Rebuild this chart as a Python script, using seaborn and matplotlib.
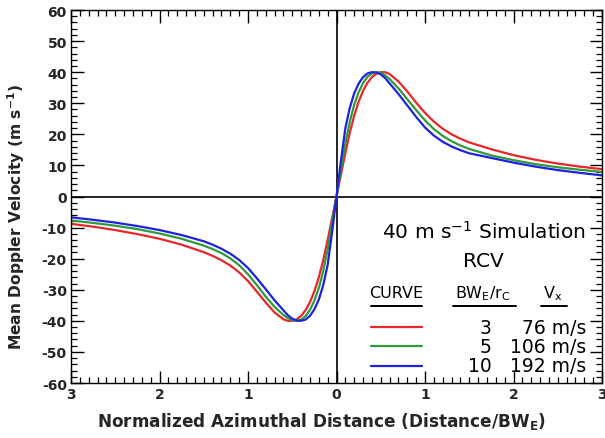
import matplotlib
matplotlib.use("Agg")
import matplotlib.pyplot as plt
import seaborn as sns
import pandas as pd
from matplotlib.ticker import MultipleLocator, FuncFormatter

# ---------------- data ----------------
x_dist = [-3.0, -2.75, -2.5, -2.25, -2.0, -1.75, -1.5, -1.4, -1.3, -1.2, -1.1, -1.0, -0.9, -0.8, -0.7,
          -0.6, -0.55, -0.5, -0.45, -0.4, -0.35, -0.3, -0.25, -0.2, -0.15, -0.1, -0.05,
          0.0,
          0.05, 0.1, 0.15, 0.2, 0.25, 0.3, 0.35, 0.4, 0.45, 0.5, 0.55, 0.6,
          0.7, 0.8, 0.9, 1.0, 1.1, 1.2, 1.3, 1.4, 1.5, 1.75, 2.0, 2.25, 2.5, 2.75, 3.0]

v_red = [-8.8, -9.7, -10.8, -12.1, -13.6, -15.5, -17.9, -19.1, -20.5, -22.2, -24.4, -27.2, -30.6, -34.1, -37.3,
         -39.5, -40.0, -40.0, -39.5, -38.4, -36.6, -34.0, -30.5, -26.0, -20.5, -14.0, -7.0,
         0.0,
         7.0, 14.0, 20.5, 26.0, 30.5, 34.0, 36.6, 38.4, 39.5, 40.0, 40.0, 39.4,
         37.0, 33.8, 30.2, 26.9, 24.1, 21.8, 20.0, 18.6, 17.4, 15.2, 13.3, 11.8, 10.6, 9.6, 8.8]

v_green = [-7.7, -8.5, -9.4, -10.5, -11.9, -13.6, -15.8, -16.9, -18.2, -19.9, -22.1, -25.0, -28.5, -32.2, -35.5,
           -38.1, -39.1, -39.8, -40.0, -39.6, -38.5, -36.5, -33.5, -29.5, -24.0, -17.0, -8.5,
           0.0,
           8.5, 17.0, 24.0, 29.5, 33.5, 36.5, 38.5, 39.6, 40.0, 39.8, 39.0, 37.8,
           34.8, 31.3, 27.8, 24.5, 21.7, 19.5, 17.8, 16.4, 15.3, 13.2, 11.7, 10.4, 9.4, 8.6, 7.9]

v_blue = [-6.7, -7.5, -8.4, -9.5, -10.8, -12.4, -14.4, -15.5, -16.8, -18.4, -20.4, -23.0, -26.3, -29.8, -33.4,
          -36.6, -38.2, -39.3, -39.9, -40.0, -39.6, -38.4, -36.3, -33.2, -28.5, -22.0, -11.5,
          0.0,
          11.5, 22.0, 28.5, 33.2, 36.3, 38.4, 39.6, 40.0, 39.9, 39.3, 38.1, 36.4,
          33.0, 29.3, 25.6, 22.2, 19.6, 17.6, 16.1, 14.9, 13.9, 12.4, 10.9, 9.6, 8.5, 7.6, 6.8]

curve_names = ["3", "5", "10"]          # BW_E / r_c
vx_labels = ["76 m/s", "106 m/s", "192 m/s"]
colors = ["#e8262a", "#2e9a3a", "#1c22e0"]

n = len(x_dist)
df = pd.DataFrame({
    "x": x_dist * 3,
    "v": v_red + v_green + v_blue,
    "curve": [curve_names[0]] * n + [curve_names[1]] * n + [curve_names[2]] * n,
})

# ---------------- style ----------------
sns.set_style("ticks")
plt.rcParams["font.family"] = ["DejaVu Sans"]
plt.rcParams["axes.unicode_minus"] = False

fig = plt.figure(figsize=(6.05, 4.39), dpi=100)
ax = fig.add_axes([71 / 605, 1 - 384 / 439, 531 / 605, 373 / 439])

sns.lineplot(data=df, x="x", y="v", hue="curve", palette=dict(zip(curve_names, colors)),
             linewidth=1.6, ax=ax, legend=False, sort=False, estimator=None)

ax.axhline(0, color="black", lw=1.2, zorder=1)
ax.axvline(0, color="black", lw=1.2, zorder=1)

ax.set_xlim(-3, 3)
ax.set_ylim(-60, 60)
ax.xaxis.set_major_locator(MultipleLocator(1))
ax.xaxis.set_minor_locator(MultipleLocator(0.1))
ax.yaxis.set_major_locator(MultipleLocator(10))
ax.yaxis.set_minor_locator(MultipleLocator(2))
ax.xaxis.set_major_formatter(FuncFormatter(lambda v, p: f"{abs(v):.0f}"))
ax.tick_params(which="both", direction="in", top=True, right=True, color="black")
ax.tick_params(which="major", length=9, width=1.0, labelsize=10, pad=3)
ax.tick_params(which="minor", length=4.5, width=0.9)
for lab in ax.get_xticklabels() + ax.get_yticklabels():
    lab.set_fontweight("bold")
for s in ax.spines.values():
    s.set_color("black")
    s.set_linewidth(1.0)

ax.set_xlabel(r"Normalized Azimuthal Distance (Distance/BW$_{\mathregular{E}}$)",
              fontsize=12.2, fontweight="bold")
ax.set_ylabel(r"Mean Doppler Velocity (m s$^{\mathregular{-1}}$)",
              fontsize=11.2, fontweight="bold")
ax.xaxis.set_label_coords(0.471, -0.073)
ax.yaxis.set_label_coords(-0.083, 0.448)

# ---------------- annotation / key ----------------
tk = dict(transform=ax.transAxes, color="black")
ax.text(0.777, 0.408, r"40 m s$^{\mathregular{-1}}$ Simulation", ha="center", va="center", fontsize=14.5, **tk)
ax.text(0.776, 0.328, "RCV", ha="center", va="center", fontsize=14.5, **tk)
ax.text(0.612, 0.243, "CURVE", ha="center", va="center", fontsize=11.5, **tk)
ax.text(0.776, 0.243, r"BW$_{\mathregular{E}}$/r$_{\mathregular{C}}$", ha="center", va="center",
        fontsize=11.5, **tk)
ax.text(0.908, 0.243, r"V$_{\mathregular{x}}$", ha="center", va="center", fontsize=11.5, **tk)
for x0, x1 in [(0.565, 0.661), (0.719, 0.838), (0.885, 0.934)]:
    ax.plot([x0, x1], [0.206, 0.206], color="black", lw=1.4, transform=ax.transAxes, clip_on=False)
rows_y = [0.149, 0.098, 0.046]
for yy, name, vx, c in zip(rows_y, curve_names, vx_labels, colors):
    ax.plot([0.565, 0.661], [yy, yy], color=c, lw=1.6, transform=ax.transAxes)
    ax.text(0.792, yy, name, ha="right", va="center", fontsize=13.5, **tk)
    ax.text(0.970, yy, vx, ha="right", va="center", fontsize=13.5, **tk)

fig.savefig("out.png", dpi=100)
